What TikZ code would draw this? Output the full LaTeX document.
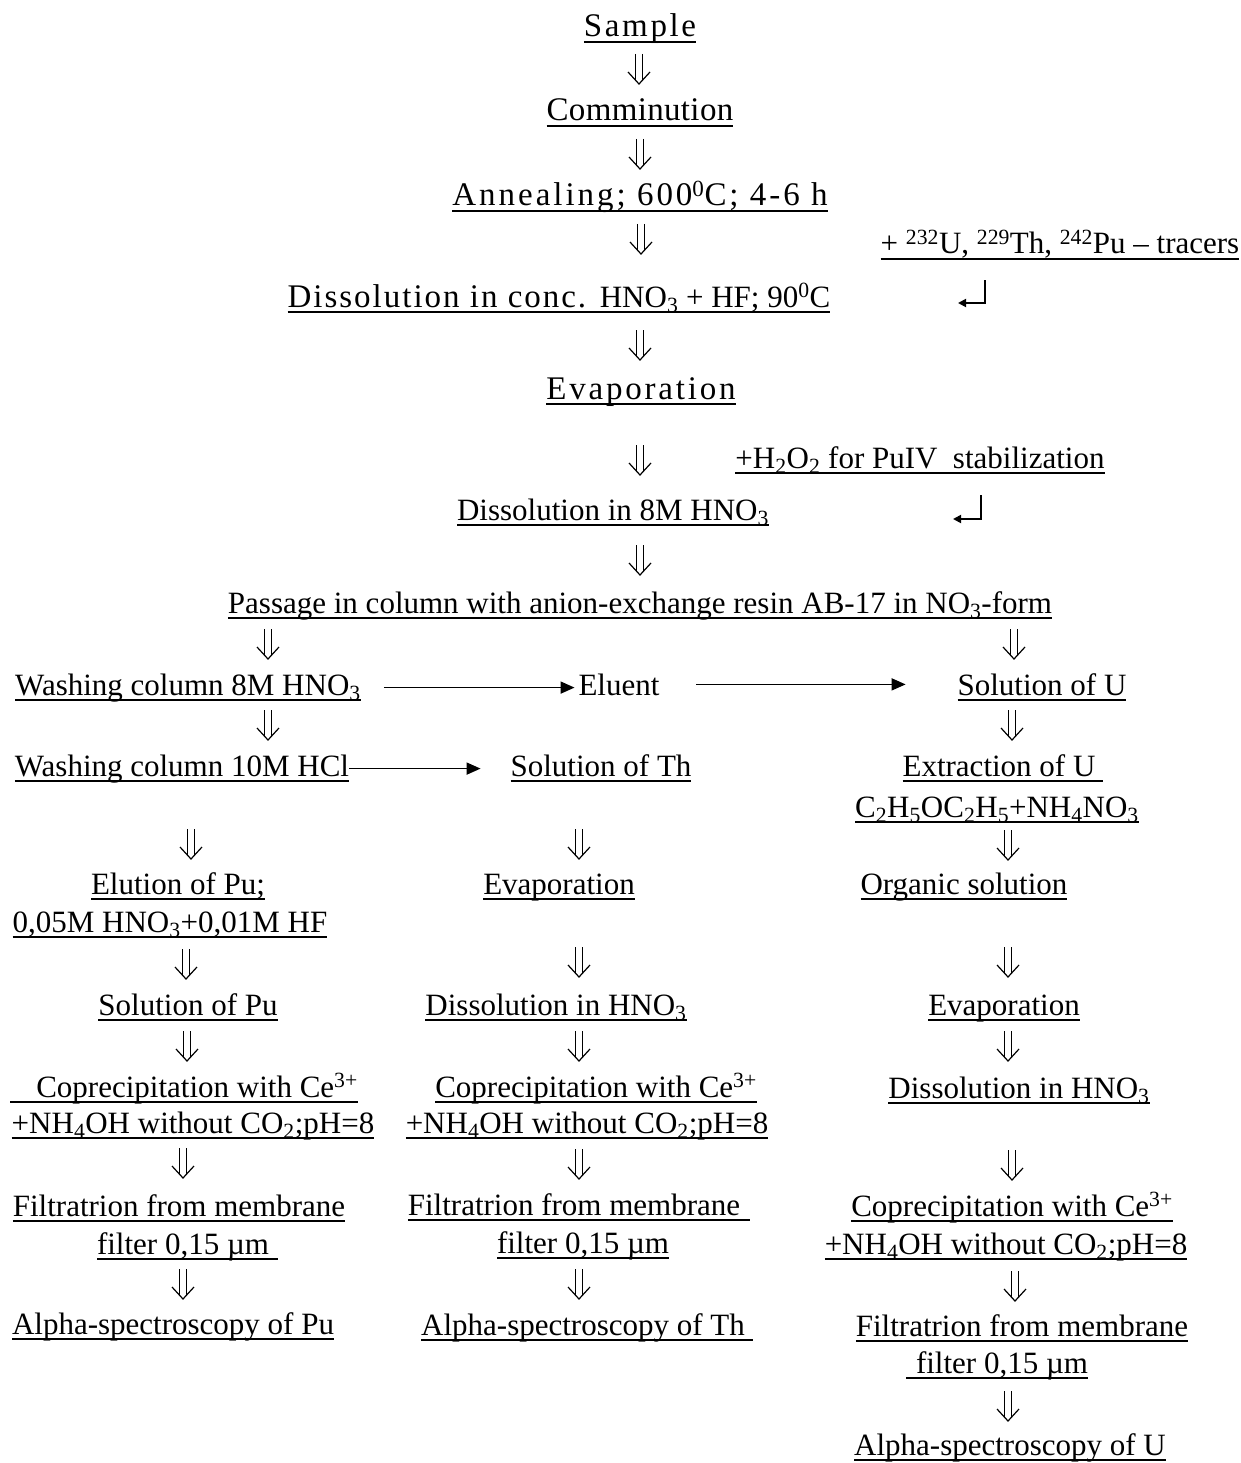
\documentclass[tikz,border=0pt]{standalone}
\usepackage{fontspec}
\setmainfont{Liberation Serif}
\usetikzlibrary{arrows.meta}
\newcommand\BigSz{\fontsize{33}{38}\selectfont}
\newcommand\LS[1]{\addfontfeature{LetterSpace=#1}}
\newcommand\Sb[1]{\textsubscript{#1}}
\newcommand\Sp[1]{\textsuperscript{#1}}
% name, centre x, underline y, left extension, right extension, text
\newcommand\UL[6]{\node[txt] (#1) at (#2,{#3-5}) {#6};
  \draw[uline] ([shift={(-#4,5)}]#1.base west) -- ([shift={(#5,5)}]#1.base east);}
\newcommand\DA[3]{\node[dar] (#1) at (#2,#3) {};}
\tikzset{
  txt/.style={inner sep=0pt, outer sep=0pt, anchor=base, font=\fontsize{31}{36}\selectfont},
  uline/.style={line width=2pt},
  harrow/.style={line width=1.7pt, -{Triangle[length=14pt,width=12pt]}},
  corner/.style={line width=1.8pt, -{Triangle[length=8pt,width=8pt]}},
  dar/.style={inner sep=0pt, outer sep=0pt, minimum width=28pt, minimum height=34pt,
    path picture={
      \draw[line width=1.2pt]
        ([shift={(-3.8pt,15pt)}]path picture bounding box.center) -- ([shift={(-3.8pt,-10.9pt)}]path picture bounding box.center)
        ([shift={(3.8pt,15pt)}]path picture bounding box.center) -- ([shift={(3.8pt,-10.9pt)}]path picture bounding box.center);
      \draw[line width=1.2pt, line join=miter]
        ([shift={(-11pt,-3pt)}]path picture bounding box.center) -- ([shift={(0pt,-15pt)}]path picture bounding box.center)
        -- ([shift={(11pt,-3pt)}]path picture bounding box.center);
    }},
}
\begin{document}
\begin{tikzpicture}[x=1pt,y=-1pt]
\useasboundingbox[fill=white] (0,0) rectangle (1241,1463);
% main trunk
\UL{sample}{640}{42}{0}{0}{\BigSz\LS{8}Sample}
\DA{d1}{639}{69}
\UL{comm}{640}{126}{0}{0}{\BigSz\LS{1}Comminution}
\DA{d2}{640}{154}
\UL{anneal}{640}{211}{0}{0}{\BigSz\LS{9}Annealing; 600\Sp{0}C; 4-6 h}
\DA{d3}{641}{239}
\UL{tracers}{1060}{259}{0}{0}{+ \Sp{232}U, \Sp{229}Th, \Sp{242}Pu -- tracers}
\coordinate (r1a) at (985,280);
\coordinate (r1b) at (958,303);
\draw[corner] (r1a) |- (r1b);
\UL{dissconc}{559}{312}{0}{0}{{\BigSz\LS{6}Dissolution in conc. }HNO\Sb{3} + HF; 90\Sp{0}C}
\DA{d4}{640}{345}
\UL{evap1}{641}{404}{0}{0}{\BigSz\LS{8.5}Evaporation}
\DA{d5}{640}{460}
\UL{hto}{920}{473}{0}{0}{+H\Sb{2}O\Sb{2} for PuIV\ \ stabilization}
\coordinate (r2a) at (981,495);
\coordinate (r2b) at (953,519);
\draw[corner] (r2a) |- (r2b);
\UL{diss8}{613}{525}{0}{0}{Dissolution in 8M HNO\Sb{3}}
\DA{d6}{640}{560}
\UL{passage}{640}{618}{0}{0}{Passage in column with anion-exchange resin AB-17 in NO\Sb{3}-form}
\DA{d7}{268}{644}
\DA{d8}{1014}{644}
% row washing 8M
\UL{wash8}{188}{700}{0}{0}{Washing column 8M HNO\Sb{3}}
\node[txt] (eluent) at (619,695) {Eluent};
\UL{solU}{1042}{700}{0}{0}{Solution of U}
\draw[harrow, shorten <=23pt, shorten >=4pt] (wash8.east) -- (wash8.east -| eluent.west);
\draw[harrow, shorten <=37pt, shorten >=52pt] (eluent.east) -- (eluent.east -| solU.west);
\DA{d9}{268}{725}
\DA{d10}{1012}{725}
% row washing 10M
\UL{wash10}{182}{781}{0}{0}{Washing column 10M HCl}
\UL{solTh}{601}{781}{0}{0}{Solution of Th}
\draw[harrow, shorten >=30pt] (wash10.east) -- (wash10.east -| solTh.west);
\UL{extrU}{999}{781}{0}{8}{Extraction of U}
\UL{ceth}{997}{822}{0}{0}{C\Sb{2}H\Sb{5}OC\Sb{2}H\Sb{5}+NH\Sb{4}NO\Sb{3}}
\DA{d11}{191}{844}
\DA{d12}{579}{844}
\DA{d13}{1008}{845}
% row elution / evaporation / organic
\UL{elPu}{178}{899}{0}{0}{Elution of Pu;}
\UL{evap2}{559}{899}{0}{0}{Evaporation}
\UL{org}{964}{899}{0}{0}{Organic solution}
\UL{hf}{170}{937}{0}{0}{0,05M HNO\Sb{3}+0,01M HF}
\DA{d14}{186}{964}
\DA{d15}{579}{962}
\DA{d16}{1008}{962}
\UL{solPu}{188}{1020}{0}{0}{Solution of Pu}
\UL{dissM}{556}{1020}{0}{0}{Dissolution in HNO\Sb{3}}
\UL{evap3}{1004}{1020}{0}{0}{Evaporation}
\DA{d17}{187}{1046}
\DA{d18}{579}{1046}
\DA{d19}{1008}{1046}
\UL{copL}{197}{1102}{26}{0}{Coprecipitation with Ce\Sp{3+}}
\UL{copM}{596}{1102}{0}{0}{Coprecipitation with Ce\Sp{3+}}
\UL{dissR}{1019}{1103}{0}{0}{Dissolution in HNO\Sb{3}}
\UL{nhL}{193}{1138}{0}{0}{+NH\Sb{4}OH without CO\Sb{2};pH=8}
\UL{nhM}{587}{1138}{0}{0}{+NH\Sb{4}OH without CO\Sb{2};pH=8}
\DA{d20}{183}{1163}
\DA{d21}{579}{1164}
\DA{d22}{1012}{1165}
\UL{filL}{179}{1221}{0}{0}{Filtratrion from membrane}
\UL{filM}{574}{1220}{0}{10}{Filtratrion from membrane}
\UL{copR}{1012}{1221}{0}{0}{Coprecipitation with Ce\Sp{3+}}
\UL{fiL}{183}{1259}{0}{9}{filter 0,15 µm}
\UL{fiM}{583}{1258}{0}{0}{filter 0,15 µm}
\UL{nhR}{1006}{1259}{0}{0}{+NH\Sb{4}OH without CO\Sb{2};pH=8}
\DA{d23}{183}{1284}
\DA{d24}{579}{1284}
\DA{d25}{1015}{1286}
\UL{alPu}{173}{1339}{0}{0}{Alpha-spectroscopy of Pu}
\UL{alTh}{583}{1340}{0}{8}{Alpha-spectroscopy of Th}
\UL{filR}{1022}{1341}{0}{0}{Filtratrion from membrane}
\UL{fiR}{1002}{1378}{10}{0}{filter 0,15 µm}
\DA{d26}{1008}{1406}
\UL{alU}{1010}{1460}{0}{0}{Alpha-spectroscopy of U}
\end{tikzpicture}
\end{document}
